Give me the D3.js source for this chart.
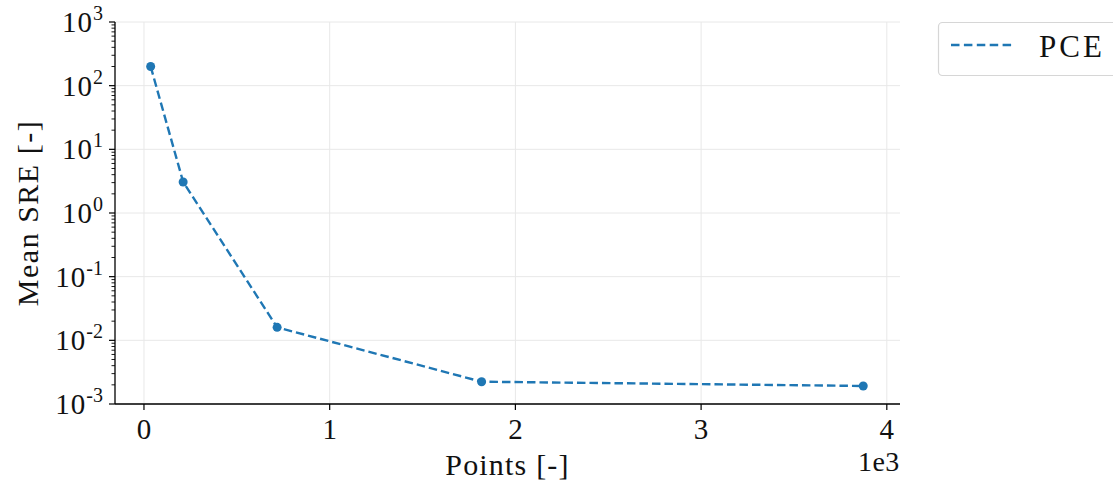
<!DOCTYPE html>
<html><head><meta charset="utf-8">
<script src="https://cdn.jsdelivr.net/npm/d3@7"></script>
<style>body{margin:0;background:#fff}svg{display:block}text{font-family:"Liberation Serif","DejaVu Serif",serif;fill:#111}</style>
</head><body><svg id="c" width="1113" height="485"></svg>
<script>
const points = [36, 211, 717, 1818, 3873];
const meanSRE = [200, 3.07, 0.016, 0.00224, 0.00192];
const seriesName = "PCE";
const xTicks = [0, 1000, 2000, 3000, 4000];
const xTickLabels = ["0", "1", "2", "3", "4"];
const yTicks = [1e-3, 1e-2, 1e-1, 1e0, 1e1, 1e2, 1e3];
const yTickExps = ["-3", "-2", "-1", "0", "1", "2", "3"];

const svg = d3.select("#c");
const L = 115, R = 900, T = 22, B = 404;
const color = "#1f77b4";
const x = d3.scaleLinear().domain([-156, 4071]).range([L, R]);
const y = d3.scaleLog().domain([1e-3, 1e3]).range([B, T]);

const grid = svg.append("g");
xTicks.forEach(t => grid.append("line").attr("x1", x(t)).attr("x2", x(t)).attr("y1", T).attr("y2", B).attr("stroke", "#e8e8e8").attr("stroke-width", 1));
yTicks.forEach(t => grid.append("line").attr("x1", L).attr("x2", R).attr("y1", y(t)).attr("y2", y(t)).attr("stroke", "#e8e8e8").attr("stroke-width", 1));

// y axis
const ya = svg.append("g");
ya.append("line").attr("x1", L).attr("x2", L).attr("y1", T).attr("y2", B).attr("stroke", "#000").attr("stroke-width", 1.3);
yTicks.forEach((t, i) => {
  ya.append("line").attr("x1", L - 6).attr("x2", L).attr("y1", y(t)).attr("y2", y(t)).attr("stroke", "#000").attr("stroke-width", 1.2);
  if (i < yTicks.length - 1) {
    for (let m = 2; m <= 9; m++) {
      const v = t * m;
      ya.append("line").attr("x1", L - 3.5).attr("x2", L).attr("y1", y(v)).attr("y2", y(v)).attr("stroke", "#000").attr("stroke-width", 0.9);
    }
  }
  const tx = ya.append("text").attr("x", L - 12).attr("y", y(t) + 10).attr("text-anchor", "end").attr("font-size", 29).attr("letter-spacing", 1);
  tx.append("tspan").text("10");
  tx.append("tspan").attr("dy", -12).attr("font-size", 20).attr("letter-spacing", 0).text(yTickExps[i]);
});
// x axis
const xa = svg.append("g");
xa.append("line").attr("x1", L).attr("x2", R).attr("y1", B).attr("y2", B).attr("stroke", "#000").attr("stroke-width", 1.3);
xTicks.forEach((t, i) => {
  xa.append("line").attr("x1", x(t)).attr("x2", x(t)).attr("y1", B).attr("y2", B + 6).attr("stroke", "#000").attr("stroke-width", 1.2);
  xa.append("text").attr("x", x(t)).attr("y", B + 35).attr("text-anchor", "middle").attr("font-size", 29).text(xTickLabels[i]);
});
xa.append("text").attr("x", x(4000) + 13).attr("y", 471).attr("text-anchor", "end").attr("font-size", 28).attr("letter-spacing", 0.5).text("1e3");
svg.append("text").attr("x", (L + R) / 2).attr("y", 475).attr("text-anchor", "middle").attr("font-size", 30).attr("letter-spacing", 1.2).text("Points [-]");
svg.append("text").attr("transform", `translate(38,${(T + B) / 2}) rotate(-90)`).attr("text-anchor", "middle").attr("font-size", 30).attr("letter-spacing", 1.5).text("Mean SRE [-]");

// series
const data = points.map((p, i) => ({ p, v: meanSRE[i] }));
const line = d3.line().x(d => x(d.p)).y(d => y(d.v));
svg.append("path").datum(data).attr("d", line).attr("fill", "none").attr("stroke", color).attr("stroke-width", 2.4).attr("stroke-dasharray", "8.5,4");
svg.selectAll("circle.pt").data(data).enter().append("circle").attr("class", "pt").attr("cx", d => x(d.p)).attr("cy", d => y(d.v)).attr("r", 4.5).attr("fill", color);

// legend
const lg = svg.append("g");
lg.append("rect").attr("x", 938.5).attr("y", 22.5).attr("width", 190).attr("height", 53).attr("rx", 4).attr("fill", "#fff").attr("stroke", "#d6d6d6").attr("stroke-width", 1.2);
lg.append("line").attr("x1", 951).attr("x2", 1015).attr("y1", 45).attr("y2", 45).attr("stroke", color).attr("stroke-width", 2.4).attr("stroke-dasharray", "8.5,4.4");
lg.append("text").attr("x", 1039).attr("y", 57).attr("font-size", 31).attr("letter-spacing", 3).text(seriesName);
</script></body></html>
